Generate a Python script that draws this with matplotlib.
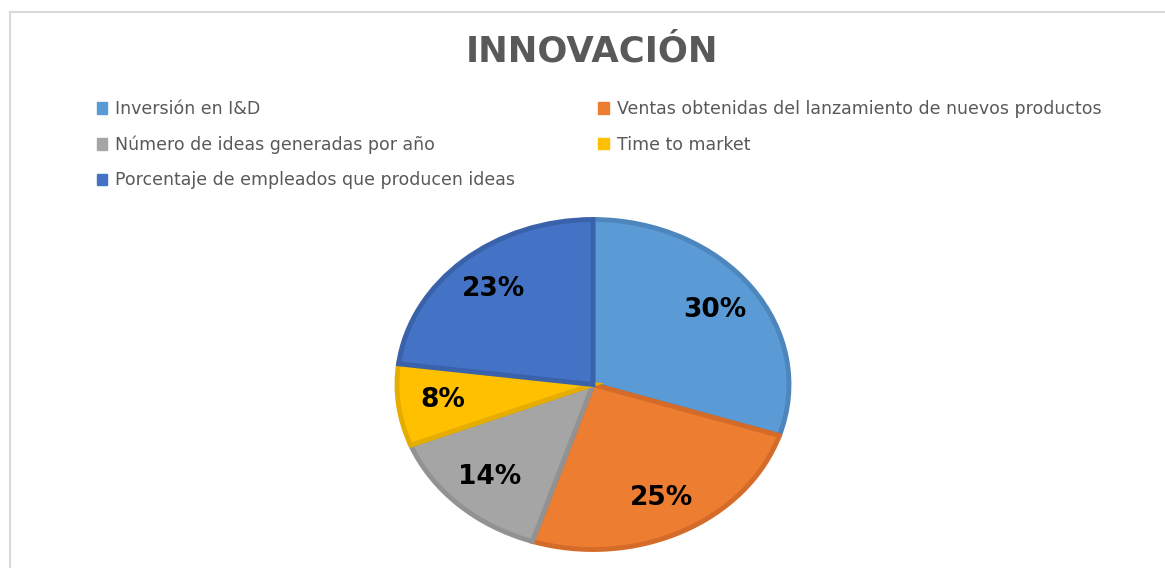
import matplotlib.pyplot as plt
from matplotlib.patches import Patch

categories = ['Inversión en I&D',
              'Ventas obtenidas del lanzamiento de nuevos productos',
              'Número de ideas generadas por año',
              'Time to market',
              'Porcentaje de empleados que producen ideas']
shares = [30, 25, 14, 8, 23]
colors = ['#5b9bd5', '#ed7d31', '#a5a5a5', '#ffc000', '#4472c4']
edges = ['#4c86bd', '#d46b28', '#929292', '#e5ad00', '#3a62ab']

plt.rcParams['font.family'] = ['DejaVu Sans']

fig = plt.figure(figsize=(11.65, 5.68), dpi=100)

# chart frame (only top and left edges are visible in the crop)
fig.add_artist(plt.Line2D([9.5 / 1165, 9.5 / 1165], [0, 1 - 11.5 / 568], color='#d9d9d9', lw=1.5))
fig.add_artist(plt.Line2D([9.5 / 1165, 1], [1 - 11.5 / 568, 1 - 11.5 / 568], color='#d9d9d9', lw=1.5))

fig.text(592 / 1165, 1 - 52 / 568, 'INNOVACIÓN', ha='center', va='center',
         fontsize=25.5, fontweight='bold', color='#595959')

# pie is drawn stretched (ellipse) like the source
rx, ry, cx, cy = 196, 165, 593, 384.5
lim = 1.1
ax = fig.add_axes([(cx - lim * rx) / 1165, (568 - cy - lim * ry) / 568,
                   2 * lim * rx / 1165, 2 * lim * ry / 568])
wedges, texts = ax.pie(shares, colors=colors, startangle=90, counterclock=False,
                       labels=[f'{v}%' for v in shares], labeldistance=0.77,
                       wedgeprops=dict(linewidth=3.5))
for w, e in zip(wedges, edges):
    w.set_edgecolor(e)
for t in texts:
    t.set_ha('center')
    t.set_va('center')
    t.set_fontsize(19)
    t.set_fontweight('bold')
    t.set_color('black')
ax.set_aspect('auto')
ax.set_xlim(-lim, lim)
ax.set_ylim(-lim, lim)

order = [0, 2, 4, 1, 3]
handles = [Patch(facecolor=colors[i], edgecolor=colors[i]) for i in order]
fig.legend(handles, [categories[i] for i in order], ncol=2, frameon=False,
           loc='upper left', bbox_to_anchor=(88 / 1165, 1 - 91.5 / 568),
           fontsize=12.5, labelcolor='#595959', handlelength=0.62, handleheight=0.62,
           handletextpad=0.45, columnspacing=4.77, labelspacing=1.0, borderpad=0)

fig.savefig('out.png', dpi=100, facecolor='white')
